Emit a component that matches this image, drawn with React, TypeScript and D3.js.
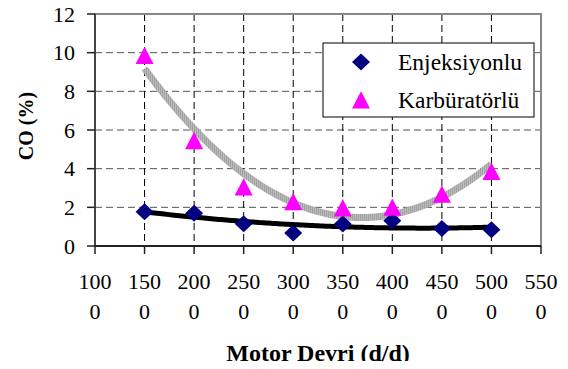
import React from "react";
import * as d3 from "d3";

const xTicks = [1000, 1500, 2000, 2500, 3000, 3500, 4000, 4500, 5000, 5500];
const yTicks = [0, 2, 4, 6, 8, 10, 12];
const rpm = [1500, 2000, 2500, 3000, 3500, 4000, 4500, 5000];
const enjeksiyonlu = [1.77, 1.69, 1.15, 0.67, 1.14, 1.3, 0.91, 0.84];
const karburatorlu = [9.85, 5.45, 3.05, 2.29, 1.97, 2.0, 2.68, 3.85];

function polyFit2(xs: number[], ys: number[]) {
  const n = xs.length;
  const s = [0, 0, 0, 0, 0];
  const t = [0, 0, 0];
  for (let i = 0; i < n; i++) {
    const x = xs[i] / 1000;
    for (let k = 0; k < 5; k++) s[k] += Math.pow(x, k);
    for (let k = 0; k < 3; k++) t[k] += ys[i] * Math.pow(x, k);
  }
  const M = [
    [s[0], s[1], s[2], t[0]],
    [s[1], s[2], s[3], t[1]],
    [s[2], s[3], s[4], t[2]],
  ];
  for (let i = 0; i < 3; i++) {
    for (let j = i + 1; j < 3; j++) {
      const f = M[j][i] / M[i][i];
      for (let k = i; k < 4; k++) M[j][k] -= f * M[i][k];
    }
  }
  const c = [0, 0, 0];
  for (let i = 2; i >= 0; i--) {
    let v = M[i][3];
    for (let k = i + 1; k < 3; k++) v -= M[i][k] * c[k];
    c[i] = v / M[i][i];
  }
  return (x: number) => c[0] + c[1] * (x / 1000) + c[2] * (x / 1000) ** 2;
}

const FF = "Liberation Serif";

export default function App() {
  const W = 568, H = 369;
  const left = 95, right = 541, top = 14, bottom = 246;
  const x = d3.scaleLinear().domain([1000, 5500]).range([left, right]);
  const y = d3.scaleLinear().domain([0, 12]).range([bottom, top]);

  const fitK = polyFit2(rpm, karburatorlu);
  const fitE = polyFit2(rpm, enjeksiyonlu);
  const samples = d3.range(1500, 5001, 25);
  const pathK = d3.line<number>().x((d) => x(d)).y((d) => y(fitK(d)))(samples)!;
  const pathE = d3.line<number>().x((d) => x(d)).y((d) => y(fitE(d)))(samples)!;

  const diamond = (cx: number, cy: number) =>
    `M${cx},${cy - 8.5}L${cx + 9},${cy}L${cx},${cy + 8.5}L${cx - 9},${cy}Z`;
  const tri = (cx: number, cy: number) =>
    `M${cx},${cy - 8.8}L${cx + 9},${cy + 8.5}L${cx - 9},${cy + 8.5}Z`;

  return (
    <div style={{ margin: -8 }}>
      <svg width={W} height={H} fontFamily={FF} style={{ display: "block" }}>
        <defs>
          <pattern id="hatch" width="2" height="2" patternUnits="userSpaceOnUse">
            <rect width="2" height="2" fill="#bababa" />
            <rect width="1" height="2" fill="#a2a2a2" />
          </pattern>
        </defs>
        <rect width={W} height={H} fill="#fff" />
        {yTicks.filter((t) => t > 0 && t < 12).map((t) => (
          <line key={"gy" + t} x1={left} x2={right} y1={y(t)} y2={y(t)} stroke="#555" strokeWidth={1} strokeDasharray="7,4" />
        ))}
        {xTicks.filter((t) => t > 1000 && t < 5500).map((t) => (
          <line key={"gx" + t} x1={x(t)} x2={x(t)} y1={top} y2={bottom} stroke="#000" strokeWidth={1} strokeDasharray="7,4" />
        ))}
        <rect x={left} y={top} width={right - left} height={bottom - top} fill="none" stroke="#888" strokeWidth={2} />
        <line x1={left} x2={left} y1={top} y2={bottom} stroke="#444" strokeWidth={2} />
        <line x1={left} x2={right} y1={bottom} y2={bottom} stroke="#222" strokeWidth={2} />
        {yTicks.map((t) => (
          <g key={"yt" + t}>
            <line x1={left - 8} x2={left} y1={y(t)} y2={y(t)} stroke="#222" strokeWidth={1.5} />
            <text x={75} y={y(t) + 7.5} textAnchor="end" fontSize={22} fontFamily={FF}>
              {t}
            </text>
          </g>
        ))}
        {xTicks.map((t) => {
          const s = String(t);
          return (
            <g key={"xt" + t}>
              <line x1={x(t)} x2={x(t)} y1={bottom} y2={bottom + 8} stroke="#222" strokeWidth={1.5} />
              <text x={x(t)} y={289} textAnchor="middle" fontSize={22} fontFamily={FF}>
                {s.slice(0, 3)}
              </text>
              <text x={x(t)} y={319} textAnchor="middle" fontSize={22} fontFamily={FF}>
                {s.slice(3)}
              </text>
            </g>
          );
        })}
        <path d={pathK} fill="none" stroke="url(#hatch)" strokeWidth={7} />
        <path d={pathE} fill="none" stroke="#000" strokeWidth={5} />
        {rpm.map((r, i) => (
          <path key={"e" + i} d={diamond(x(r), y(enjeksiyonlu[i]))} fill="#000080" />
        ))}
        {rpm.map((r, i) => (
          <path key={"k" + i} d={tri(x(r), y(karburatorlu[i]))} fill="#ff00ff" />
        ))}
        <rect x={323} y={43} width={211} height={74} fill="#fff" stroke="#000" strokeWidth={1} />
        <path d={diamond(361, 62)} fill="#000080" />
        <text x={398} y={70} fontSize={23.5} fontFamily={FF}>Enjeksiyonlu</text>
        <path d={tri(361, 100)} fill="#ff00ff" />
        <text x={398} y={108} fontSize={23.5} fontFamily={FF}>Karbüratörlü</text>
        <text x={318} y={361} textAnchor="middle" fontSize={24} fontWeight="bold" fontFamily={FF}>
          Motor Devri (d/d)
        </text>
        <text transform={`translate(33,126) rotate(-90)`} textAnchor="middle" fontSize={20} fontWeight="bold" fontFamily={FF}>
          CO (%)
        </text>
      </svg>
    </div>
  );
}
